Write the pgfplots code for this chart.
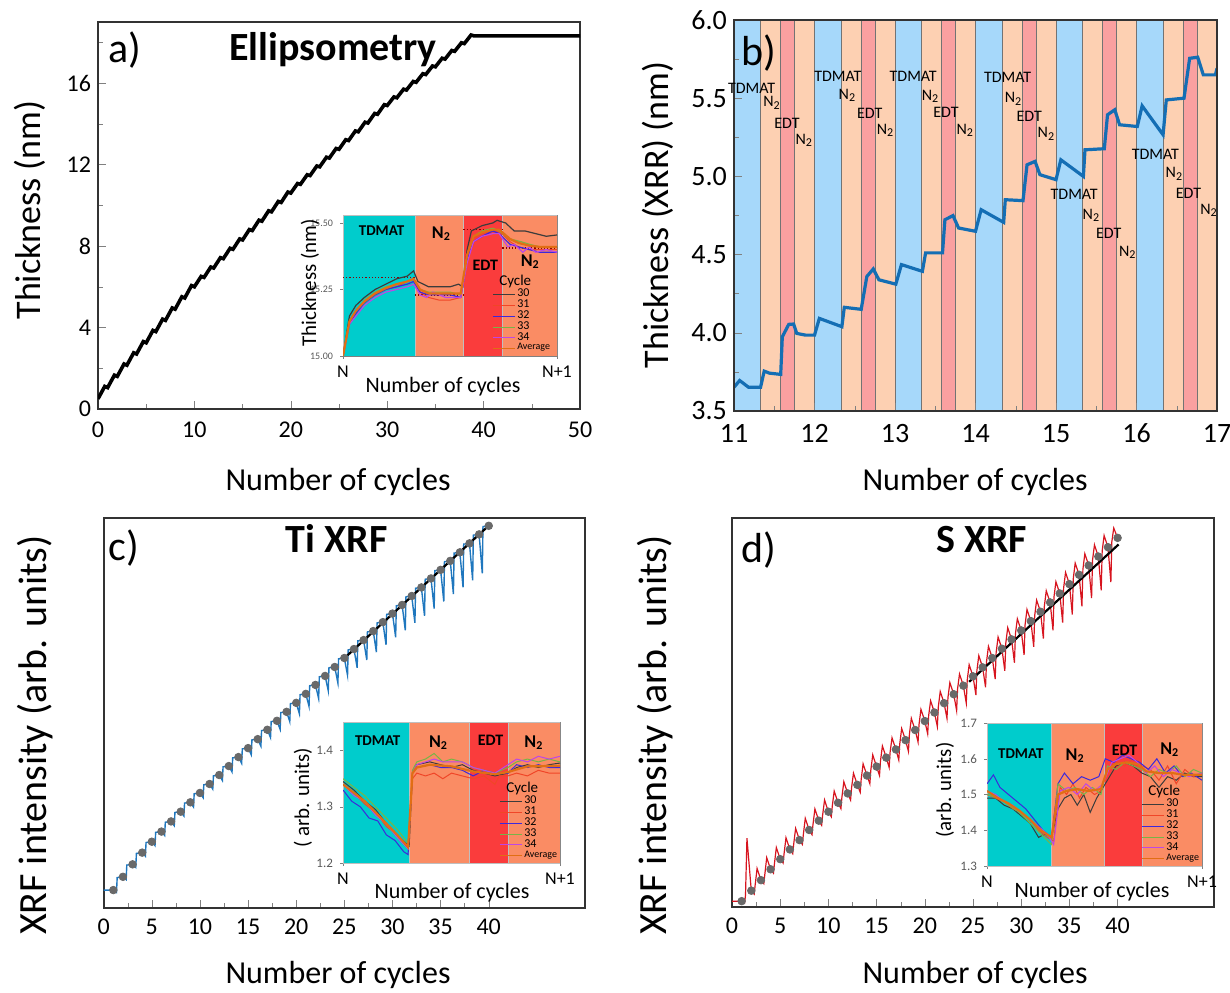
\documentclass[border=0pt]{standalone}
\usepackage{fontspec}
\setmainfont{Carlito}
\usepackage{pgfplots}
\pgfplotsset{compat=1.18}

\definecolor{icyan}{RGB}{0,204,204}
\definecolor{isalmon}{RGB}{250,140,100}
\definecolor{ired}{RGB}{250,60,60}
\definecolor{bblue}{RGB}{166,216,250}
\definecolor{bpeach}{RGB}{253,208,178}
\definecolor{bpink}{RGB}{250,160,160}
\definecolor{c30}{RGB}{60,60,60}
\definecolor{c31}{RGB}{240,70,40}
\definecolor{c32}{RGB}{60,40,220}
\definecolor{c33}{RGB}{120,180,70}
\definecolor{c34}{RGB}{190,70,230}
\definecolor{cavg}{RGB}{225,110,20}
\definecolor{lblue}{RGB}{31,119,190}
\definecolor{xblue}{RGB}{20,110,180}
\definecolor{lred}{RGB}{215,20,30}
\definecolor{dotgray}{RGB}{105,105,105}

\pgfplotsset{
  mainax/.style={scale only axis, anchor=south west, tick pos=left, tick align=inside,
    axis line style={line width=0.8pt, black!80},
    major tick length=4pt, minor tick length=2.5pt,
    /pgf/number format/assume math mode=true},
  insetax/.style={scale only axis, anchor=south west, xmin=0, xmax=1, tick pos=left,
    tick align=outside, axis line style={line width=0.4pt, black!50},
    major tick length=1.5pt, xtick={0,1}, xticklabels={N,N+1},
    xticklabel style={font=\fontsize{9}{9}\selectfont},
    yticklabel style={font=\fontsize{5}{5}\selectfont, text=black!65},
    legend cell align=left,
    legend style={at={(1,0)}, anchor=south east, draw=none, fill=none, inner sep=0.3pt,
      row sep=-1.9pt, font=\fontsize{6}{6}\selectfont, nodes={inner sep=1pt}},
    legend image code/.code={\draw[line width=0.5pt,##1] (0pt,0pt) -- (11pt,0pt);}},
}

% coloured step regions
\newcommand{\reg}[5]{\addplot[fill=#1, draw=black!25, line width=0.2pt, forget plot] coordinates {(#2,#4)(#2,#5)(#3,#5)(#3,#4)} --cycle;}
\newcommand{\band}[3]{\addplot[fill=#1, draw=black!55, line width=0.35pt, forget plot] coordinates {(#2,3.5)(#2,6)(#3,6)(#3,3.5)} --cycle;}

\begin{document}
\begin{tikzpicture}
\path[use as bounding box] (0pt,0pt) rectangle (615pt,496pt);

%% ---------------- a) ellipsometry
\begin{axis}[mainax, at={(49pt,291.5pt)}, width=241pt, height=193.5pt,
  xmin=0, xmax=50, ymin=0, ymax=19,
  xtick={0,10,...,50}, minor xtick={5,15,...,45},
  ytick={0,4,...,16}, minor ytick={2,6,...,18},
  ticklabel style={font=\fontsize{12}{12}\selectfont},
  xticklabel style={yshift=-3pt}]
\addplot[black, line width=1.8pt] coordinates {
(0,0.50)(0.7,1.11)(1,1.05)(1.7,1.66)(2,1.60)(2.7,2.21)(3,2.15)(3.7,2.76)(4,2.70)(4.7,3.31)
(5,3.25)(5.7,3.86)(6,3.80)(6.7,4.41)(7,4.35)(7.7,4.96)(8,4.90)(8.7,5.51)(9,5.45)(9.7,6.06)
(10,6.00)(10.7,6.51)(11,6.46)(11.7,6.97)(12,6.92)(12.7,7.43)(13,7.38)(13.7,7.89)(14,7.84)(14.7,8.35)
(15,8.30)(15.7,8.81)(16,8.76)(16.7,9.27)(17,9.22)(17.7,9.73)(18,9.68)(18.7,10.19)(19,10.14)(19.7,10.65)
(20,10.60)(20.7,11.07)(21,11.03)(21.7,11.50)(22,11.46)(22.7,11.93)(23,11.89)(23.7,12.36)(24,12.32)(24.7,12.79)
(25,12.75)(25.7,13.22)(26,13.18)(26.7,13.65)(27,13.61)(27.7,14.08)(28,14.04)(28.7,14.51)(29,14.47)(29.7,14.94)
(30,14.90)(30.7,15.32)(31,15.28)(31.7,15.70)(32,15.66)(32.7,16.08)(33,16.04)(33.7,16.46)(34,16.42)(34.7,16.84)
(35,16.80)(35.7,17.22)(36,17.18)(36.7,17.60)(37,17.56)(37.7,17.98)(38,17.94)(38.7,18.36)(39,18.32)(50,18.32)};
\end{axis}

%% a) inset
\begin{axis}[insetax, at={(171.5pt,318pt)}, width=107pt, height=70.5pt,
  ymin=15, ymax=15.53, ytick={15,15.25,15.5}, yticklabels={15.00,15.25,15.50},
  legend style={xshift=-2pt}]
\reg{icyan}{0}{0.336}{15}{15.53}
\reg{isalmon}{0.336}{0.5625}{15}{15.53}
\reg{ired}{0.5625}{0.745}{15}{15.53}
\reg{isalmon}{0.745}{1}{15}{15.53}
\addplot[densely dotted, red!55!black, line width=0.6pt, forget plot] coordinates {(0,15.294)(0.336,15.294)};
\addplot[densely dotted, red!55!black, line width=0.6pt, forget plot] coordinates {(0.336,15.229)(0.5625,15.229)};
\addplot[densely dotted, red!55!black, line width=0.6pt, forget plot] coordinates {(0.5625,15.475)(0.745,15.475)};
\addplot[densely dotted, red!55!black, line width=0.6pt, forget plot] coordinates {(0.745,15.406)(1,15.406)};
\addlegendimage{empty legend}\addlegendentry{\hspace*{-9pt}\fontsize{7.5}{7.5}\selectfont Cycle}
\addplot[c30, line width=0.6pt] coordinates {(0,15.00)(0.03,15.15)(0.06,15.19)(0.1,15.22)(0.15,15.25)(0.2,15.27)(0.25,15.29)(0.3,15.30)(0.33,15.32)(0.35,15.28)(0.4,15.26)(0.45,15.26)(0.5,15.26)(0.54,15.27)(0.56,15.26)(0.58,15.40)(0.6,15.47)(0.65,15.49)(0.7,15.50)(0.72,15.51)(0.76,15.50)(0.8,15.47)(0.85,15.47)(0.9,15.46)(0.95,15.45)(1,15.455)};
\addlegendentry{30}
\addplot[c31, line width=0.5pt] coordinates {(0,15.00)(0.03,15.13)(0.06,15.17)(0.1,15.2)(0.15,15.23)(0.2,15.25)(0.25,15.26)(0.3,15.28)(0.33,15.29)(0.36,15.24)(0.4,15.22)(0.45,15.21)(0.5,15.21)(0.55,15.22)(0.58,15.38)(0.6,15.44)(0.65,15.46)(0.7,15.47)(0.73,15.47)(0.78,15.43)(0.82,15.41)(0.87,15.40)(0.92,15.40)(1,15.40)};
\addlegendentry{31}
\addplot[c32, line width=0.6pt] coordinates {(0,15.00)(0.03,15.12)(0.06,15.16)(0.1,15.20)(0.15,15.23)(0.2,15.25)(0.25,15.26)(0.3,15.27)(0.33,15.28)(0.36,15.24)(0.4,15.23)(0.45,15.23)(0.5,15.23)(0.55,15.22)(0.58,15.36)(0.61,15.43)(0.65,15.45)(0.7,15.47)(0.73,15.46)(0.78,15.42)(0.82,15.41)(0.87,15.40)(0.92,15.39)(1,15.39)};
\addlegendentry{32}
\addplot[c33, line width=0.6pt] coordinates {(0,15.00)(0.03,15.13)(0.06,15.17)(0.1,15.21)(0.15,15.24)(0.2,15.26)(0.25,15.27)(0.3,15.28)(0.33,15.29)(0.36,15.25)(0.4,15.24)(0.45,15.24)(0.5,15.24)(0.55,15.23)(0.58,15.38)(0.61,15.45)(0.65,15.47)(0.7,15.48)(0.73,15.47)(0.78,15.44)(0.83,15.43)(0.87,15.42)(0.92,15.41)(1,15.41)};
\addlegendentry{33}
\addplot[c34, line width=0.6pt] coordinates {(0,15.00)(0.03,15.12)(0.06,15.15)(0.1,15.19)(0.15,15.22)(0.2,15.24)(0.25,15.25)(0.3,15.26)(0.33,15.27)(0.36,15.23)(0.39,15.22)(0.42,15.24)(0.45,15.23)(0.48,15.22)(0.52,15.22)(0.55,15.22)(0.58,15.35)(0.61,15.43)(0.65,15.45)(0.7,15.46)(0.73,15.46)(0.77,15.41)(0.8,15.42)(0.84,15.39)(0.87,15.41)(0.9,15.39)(0.95,15.40)(1,15.39)};
\addlegendentry{34}
\addplot[cavg, line width=1.1pt] coordinates {(0,15.00)(0.03,15.13)(0.06,15.17)(0.1,15.205)(0.15,15.235)(0.2,15.255)(0.25,15.27)(0.3,15.28)(0.33,15.29)(0.36,15.25)(0.4,15.235)(0.45,15.235)(0.5,15.235)(0.55,15.235)(0.58,15.38)(0.61,15.45)(0.65,15.465)(0.7,15.475)(0.73,15.475)(0.78,15.44)(0.82,15.425)(0.87,15.415)(0.92,15.41)(1,15.41)};
\addlegendentry{\fontsize{5}{5}\selectfont Average}
\node[font=\bfseries\fontsize{7.5}{7.5}\selectfont] at (axis cs:0.18,15.47) {TDMAT};
\node[font=\bfseries\fontsize{9}{9}\selectfont] at (axis cs:0.46,15.46) {N\textsubscript{2}};
\node[font=\bfseries\fontsize{8}{8}\selectfont] at (axis cs:0.665,15.34) {EDT};
\node[font=\bfseries\fontsize{9}{9}\selectfont] at (axis cs:0.875,15.355) {N\textsubscript{2}};
\end{axis}

%% ---------------- b) XRR
\begin{axis}[mainax, axis on top, at={(367pt,290.5pt)}, width=241.5pt, height=195.5pt,
  xmin=11, xmax=17, ymin=3.5, ymax=6,
  xtick={11,...,17}, minor xtick={11.5,12.5,...,16.5},
  ytick={3.5,4,...,6}, minor ytick={3.75,4.25,...,5.75},
  ticklabel style={font=\fontsize{14}{14}\selectfont},
  xticklabel style={yshift=-3pt},
  yticklabel style={/pgf/number format/fixed, /pgf/number format/fixed zerofill, /pgf/number format/precision=1}]
\band{bblue}{11}{11.33}\band{bpeach}{11.33}{11.58}\band{bpink}{11.58}{11.755}\band{bpeach}{11.755}{12}
\band{bblue}{12}{12.33}\band{bpeach}{12.33}{12.58}\band{bpink}{12.58}{12.755}\band{bpeach}{12.755}{13}
\band{bblue}{13}{13.33}\band{bpeach}{13.33}{13.58}\band{bpink}{13.58}{13.755}\band{bpeach}{13.755}{14}
\band{bblue}{14}{14.33}\band{bpeach}{14.33}{14.58}\band{bpink}{14.58}{14.755}\band{bpeach}{14.755}{15}
\band{bblue}{15}{15.33}\band{bpeach}{15.33}{15.58}\band{bpink}{15.58}{15.755}\band{bpeach}{15.755}{16}
\band{bblue}{16}{16.33}\band{bpeach}{16.33}{16.58}\band{bpink}{16.58}{16.755}\band{bpeach}{16.755}{17}
\addplot[xblue, line width=1.6pt] coordinates {
(11.00,3.652)(11.07,3.695)(11.18,3.652)(11.33,3.652)(11.375,3.755)(11.44,3.742)(11.58,3.734)
(11.60,3.974)(11.68,4.054)(11.74,4.056)(11.78,3.996)(11.89,3.985)(12.00,3.985)(12.06,4.092)
(12.34,4.039)(12.37,4.163)(12.58,4.150)(12.65,4.36)(12.73,4.408)(12.80,4.339)(13.01,4.311)
(13.08,4.436)(13.34,4.393)(13.38,4.511)(13.59,4.511)(13.62,4.723)(13.72,4.749)(13.79,4.670)
(14.00,4.649)(14.07,4.787)(14.35,4.706)(14.37,4.851)(14.59,4.845)(14.64,5.074)(14.74,5.096)
(14.80,5.011)(15.00,4.979)(15.06,5.106)(15.34,5.000)(15.36,5.170)(15.60,5.177)(15.64,5.394)
(15.73,5.426)(15.79,5.330)(16.01,5.319)(16.07,5.451)(16.33,5.266)(16.37,5.489)(16.59,5.500)
(16.66,5.755)(16.76,5.762)(16.83,5.649)(16.98,5.649)(17.00,5.691)};
\end{axis}

%% ---------------- c) Ti XRF
\begin{axis}[mainax, at={(51.85pt,42pt)}, width=240.65pt, height=195pt,
  xmin=0, xmax=50, ymin=0, ymax=100,
  xtick={0,5,...,40}, minor xtick={2.5,7.5,...,37.5}, ytick=\empty,
  ticklabel style={font=\fontsize{12}{12}\selectfont},
  xticklabel style={yshift=-2pt}]
\addplot[lblue, line width=0.7pt] coordinates {
(0,4.6)(1,4.6)(1.33,4.0)(1.4,7.8)(2,8.0)(2.33,7.3)(2.4,11.0)(3,11.2)(3.33,10.4)(3.4,14.0)
(4,14.2)(4.33,13.3)(4.4,16.8)(5,17.0)(5.33,16.0)(5.4,19.4)(6,19.6)(6.33,18.6)(6.4,22.0)
(7,22.2)(7.33,21.1)(7.4,24.5)(8,24.7)(8.33,23.6)(8.4,26.9)(9,27.1)(9.33,25.9)(9.4,29.3)
(10,29.5)(10.33,28.3)(10.4,31.6)(11,31.8)(11.33,30.5)(11.4,33.9)(12,34.1)(12.33,32.7)(12.4,36.2)
(13,36.4)(13.33,34.9)(13.4,38.5)(14,38.7)(14.33,37.1)(14.4,40.8)(15,41.0)(15.33,39.3)(15.4,43.1)
(16,43.3)(16.33,41.5)(16.4,45.5)(17,45.7)(17.33,43.7)(17.4,47.8)(18,48.0)(18.33,45.8)(18.4,50.1)
(19,50.3)(19.33,47.8)(19.4,52.4)(20,52.6)(20.33,49.8)(20.4,54.7)(21,54.9)(21.33,51.7)(21.4,57.0)
(22,57.2)(22.33,53.7)(22.4,59.3)(23,59.5)(23.33,55.7)(23.4,61.6)(24,61.8)(24.33,57.7)(24.4,63.9)
(25,64.1)(25.33,59.7)(25.4,66.2)(26,66.4)(26.33,61.6)(26.4,68.5)(27,68.7)(27.33,63.6)(27.4,70.8)
(28,71.0)(28.33,65.6)(28.4,73.1)(29,73.3)(29.33,67.5)(29.4,75.3)(30,75.5)(30.33,69.4)(30.4,77.5)
(31,77.7)(31.33,71.2)(31.4,79.8)(32,80.0)(32.33,73.1)(32.4,82.0)(33,82.2)(33.33,74.9)(33.4,84.3)
(34,84.5)(34.33,76.8)(34.4,86.5)(35,86.7)(35.33,78.6)(35.4,88.8)(36,89.0)(36.33,80.5)(36.4,91.0)
(37,91.2)(37.33,82.2)(37.4,93.3)(38,93.5)(38.33,84.0)(38.4,95.6)(39,95.8)(39.33,85.8)(39.4,97.8)
(40,98.0)};
\addplot[only marks, mark=*, mark size=1.9pt, dotgray] coordinates {
(1,4.6)(2,8.0)(3,11.2)(4,14.2)(5,17.0)(6,19.6)(7,22.2)(8,24.7)(9,27.1)(10,29.5)
(11,31.8)(12,34.1)(13,36.4)(14,38.7)(15,41.0)(16,43.3)(17,45.7)(18,48.0)(19,50.3)(20,52.6)
(21,54.9)(22,57.2)(23,59.5)(24,61.8)(25,64.1)(26,66.4)(27,68.7)(28,71.0)(29,73.3)(30,75.5)
(31,77.7)(32,80.0)(33,82.2)(34,84.5)(35,86.7)(36,89.0)(37,91.2)(38,93.5)(39,95.8)(40,98.0)};
\addplot[black, line width=1.1pt] coordinates {(24.8,63.6)(40.2,98.5)};
\end{axis}

%% c) inset
\begin{axis}[insetax, at={(171.5pt,64.5pt)}, width=108.5pt, height=70.5pt,
  ymin=1.2, ymax=1.451, ytick={1.2,1.3,1.4}, yticklabels={1.2,1.3,1.4},
  yticklabel style={font=\fontsize{6.5}{6.5}\selectfont}]
\reg{icyan}{0}{0.305}{1.2}{1.451}
\reg{isalmon}{0.305}{0.58}{1.2}{1.451}
\reg{ired}{0.58}{0.76}{1.2}{1.451}
\reg{isalmon}{0.76}{1}{1.2}{1.451}
\addlegendimage{empty legend}\addlegendentry{\hspace*{-9pt}\fontsize{7.5}{7.5}\selectfont Cycle}
\addplot[c30, line width=0.5pt] coordinates {(0,1.345)(0.05,1.33)(0.1,1.31)(0.15,1.295)(0.2,1.27)(0.25,1.25)(0.29,1.235)(0.305,1.23)(0.32,1.36)(0.34,1.375)(0.4,1.38)(0.45,1.375)(0.5,1.37)(0.55,1.375)(0.6,1.365)(0.65,1.36)(0.7,1.355)(0.76,1.36)(0.8,1.37)(0.85,1.375)(0.9,1.37)(0.95,1.375)(1,1.378)};
\addlegendentry{30}
\addplot[c31, line width=0.5pt] coordinates {(0,1.34)(0.05,1.325)(0.1,1.305)(0.15,1.29)(0.2,1.265)(0.25,1.25)(0.3,1.23)(0.32,1.35)(0.34,1.36)(0.38,1.355)(0.42,1.36)(0.46,1.35)(0.5,1.36)(0.55,1.355)(0.6,1.35)(0.65,1.355)(0.7,1.34)(0.72,1.355)(0.76,1.355)(0.8,1.36)(0.85,1.355)(0.9,1.365)(0.95,1.36)(1,1.36)};
\addlegendentry{31}
\addplot[c32, line width=0.5pt] coordinates {(0,1.33)(0.04,1.31)(0.08,1.30)(0.12,1.28)(0.16,1.275)(0.2,1.25)(0.24,1.24)(0.28,1.22)(0.3,1.215)(0.32,1.36)(0.34,1.37)(0.4,1.375)(0.45,1.37)(0.5,1.37)(0.55,1.365)(0.6,1.355)(0.65,1.365)(0.7,1.36)(0.76,1.36)(0.8,1.375)(0.85,1.37)(0.9,1.375)(0.95,1.37)(1,1.37)};
\addlegendentry{32}
\addplot[c33, line width=0.5pt] coordinates {(0,1.35)(0.05,1.335)(0.1,1.32)(0.15,1.30)(0.2,1.28)(0.25,1.26)(0.3,1.235)(0.32,1.365)(0.34,1.38)(0.38,1.385)(0.42,1.395)(0.46,1.38)(0.5,1.385)(0.55,1.38)(0.6,1.37)(0.65,1.365)(0.7,1.36)(0.76,1.37)(0.8,1.38)(0.85,1.385)(0.9,1.38)(0.95,1.385)(1,1.38)};
\addlegendentry{33}
\addplot[c34, line width=0.5pt] coordinates {(0,1.34)(0.05,1.32)(0.1,1.31)(0.15,1.285)(0.2,1.27)(0.25,1.245)(0.3,1.225)(0.32,1.36)(0.34,1.375)(0.38,1.38)(0.42,1.385)(0.46,1.38)(0.5,1.38)(0.55,1.38)(0.6,1.37)(0.65,1.365)(0.7,1.36)(0.76,1.375)(0.8,1.385)(0.85,1.38)(0.9,1.39)(0.95,1.385)(1,1.39)};
\addlegendentry{34}
\addplot[cavg, line width=1.1pt] coordinates {(0,1.34)(0.05,1.325)(0.1,1.31)(0.15,1.29)(0.2,1.27)(0.25,1.25)(0.3,1.228)(0.32,1.36)(0.34,1.37)(0.4,1.375)(0.5,1.372)(0.6,1.363)(0.7,1.358)(0.76,1.362)(0.85,1.372)(1,1.373)};
\addlegendentry{\fontsize{5}{5}\selectfont Average}
\node[font=\bfseries\fontsize{7.5}{7.5}\selectfont] at (axis cs:0.16,1.418) {TDMAT};
\node[font=\bfseries\fontsize{9}{9}\selectfont] at (axis cs:0.44,1.414) {N\textsubscript{2}};
\node[font=\bfseries\fontsize{8}{8}\selectfont] at (axis cs:0.68,1.419) {EDT};
\node[font=\bfseries\fontsize{9}{9}\selectfont] at (axis cs:0.88,1.414) {N\textsubscript{2}};
\end{axis}

%% ---------------- d) S XRF
\begin{axis}[mainax, at={(366pt,42.5pt)}, width=241pt, height=194.5pt,
  xmin=0, xmax=50, ymin=0, ymax=100,
  xtick={0,5,...,40}, minor xtick={2.5,7.5,...,37.5}, ytick=\empty,
  ticklabel style={font=\fontsize{12}{12}\selectfont},
  xticklabel style={yshift=-2pt}]
\addplot[lred, line width=0.6pt] coordinates {
(0,1.5)(1,1.5)(1.3,1.0)(1.4,3.0)(1.55,17.7)(2,4.2)(2.3,3.3)(2.4,5.6)(2.6,9.9)(3,6.9)(3.3,6.0)(3.4,8.3)(3.6,12.7)
(4,9.7)(4.3,8.7)(4.4,11.1)(4.6,15.3)(5,12.3)(5.3,11.3)(5.4,13.7)(5.6,17.8)(6,14.8)(6.3,13.7)(6.4,16.2)(6.6,20.2)
(7,17.2)(7.3,16.1)(7.4,18.6)(7.6,22.8)(8,19.8)(8.3,18.6)(8.4,21.2)(8.6,25.2)(9,22.2)(9.3,21.0)(9.4,23.6)(9.6,27.5)
(10,24.5)(10.3,23.2)(10.4,25.9)(10.6,29.8)(11,26.8)(11.3,25.3)(11.4,28.2)(11.6,32.2)(12,29.2)(12.3,27.5)(12.4,30.6)(12.6,34.4)
(13,31.4)(13.3,29.5)(13.4,32.8)(13.6,36.8)(14,33.8)(14.3,31.7)(14.4,35.2)(14.6,39.1)(15,36.1)(15.3,33.8)(15.4,37.5)(15.6,41.4)
(16,38.4)(16.3,35.9)(16.4,39.8)(16.6,43.5)(17,40.5)(17.3,37.8)(17.4,41.9)(17.6,45.9)(18,42.9)(18.3,40.0)(18.4,44.3)(18.6,48.5)
(19,45.5)(19.3,42.4)(19.4,46.9)(19.6,50.8)(20,47.8)(20.3,44.5)(20.4,49.2)(20.6,53.0)(21,50.0)(21.3,46.4)(21.4,51.4)(21.6,55.4)
(22,52.4)(22.3,48.5)(22.4,53.8)(22.6,57.7)(23,54.7)(23.3,50.5)(23.4,56.1)(23.6,59.9)(24,56.9)(24.3,52.4)(24.4,58.3)(24.6,62.3)
(25,59.3)(25.3,54.5)(25.4,60.7)(25.6,64.6)(26,61.6)(26.3,56.5)(26.4,63.0)(26.6,67.0)(27,64.0)(27.3,58.6)(27.4,65.4)(27.6,69.4)
(28,66.4)(28.3,60.7)(28.4,67.8)(28.6,71.8)(29,68.8)(29.3,62.8)(29.4,70.2)(29.6,74.1)(30,71.1)(30.3,64.8)(30.4,72.5)(30.6,76.5)
(31,73.5)(31.3,66.9)(31.4,74.9)(31.6,78.9)(32,75.9)(32.3,69.0)(32.4,77.3)(32.6,81.3)(33,78.3)(33.3,71.1)(33.4,79.7)(33.6,83.6)
(34,80.6)(34.3,73.1)(34.4,82.0)(34.6,86.0)(35,83.0)(35.3,75.2)(35.4,84.4)(35.6,88.4)(36,85.4)(36.3,77.3)(36.4,86.8)(36.6,90.8)
(37,87.8)(37.3,79.4)(37.4,89.2)(37.6,93.1)(38,90.1)(38.3,81.4)(38.4,91.5)(38.6,95.5)(39,92.5)(39.3,83.5)(39.4,93.9)(39.6,97.4)
(40,94.9)};
\addplot[only marks, mark=*, mark size=1.9pt, dotgray] coordinates {
(1,1.5)(2,4.2)(3,6.9)(4,9.7)(5,12.3)(6,14.8)(7,17.2)(8,19.8)(9,22.2)(10,24.5)
(11,26.8)(12,29.2)(13,31.4)(14,33.8)(15,36.1)(16,38.4)(17,40.5)(18,42.9)(19,45.5)(20,47.8)
(21,50.0)(22,52.4)(23,54.7)(24,56.9)(25,59.3)(26,61.6)(27,64.0)(28,66.4)(29,68.8)(30,71.1)
(31,73.5)(32,75.9)(33,78.3)(34,80.6)(35,83.0)(36,85.4)(37,87.8)(38,90.1)(39,92.5)(40,94.9)};
\addplot[black, line width=1.1pt] coordinates {(24.6,57.9)(40.1,93.2)};
\end{axis}

%% d) inset
\begin{axis}[insetax, at={(493.5pt,63pt)}, width=107.5pt, height=71.5pt,
  ymin=1.3, ymax=1.7, ytick={1.3,1.4,1.5,1.6,1.7}, yticklabels={1.3,1.4,1.5,1.6,1.7},
  yticklabel style={font=\fontsize{6.5}{6.5}\selectfont}]
\reg{icyan}{0}{0.30}{1.3}{1.7}
\reg{isalmon}{0.30}{0.543}{1.3}{1.7}
\reg{ired}{0.543}{0.724}{1.3}{1.7}
\reg{isalmon}{0.724}{1}{1.3}{1.7}
\addlegendimage{empty legend}\addlegendentry{\hspace*{-9pt}\fontsize{7.5}{7.5}\selectfont Cycle}
\addplot[c30, line width=0.5pt] coordinates {(0,1.49)(0.04,1.49)(0.08,1.47)(0.12,1.46)(0.16,1.44)(0.2,1.42)(0.24,1.38)(0.27,1.39)(0.3,1.38)(0.33,1.46)(0.36,1.49)(0.39,1.50)(0.42,1.47)(0.45,1.50)(0.48,1.45)(0.51,1.49)(0.54,1.52)(0.57,1.55)(0.6,1.58)(0.64,1.59)(0.68,1.58)(0.72,1.56)(0.76,1.55)(0.8,1.52)(0.84,1.55)(0.88,1.54)(0.92,1.56)(0.96,1.55)(1,1.55)};
\addlegendentry{30}
\addplot[c31, line width=0.5pt] coordinates {(0,1.50)(0.04,1.49)(0.08,1.48)(0.12,1.46)(0.16,1.45)(0.2,1.43)(0.24,1.40)(0.28,1.38)(0.31,1.37)(0.34,1.52)(0.37,1.50)(0.4,1.53)(0.43,1.49)(0.46,1.52)(0.5,1.50)(0.53,1.51)(0.56,1.57)(0.6,1.59)(0.64,1.58)(0.68,1.60)(0.72,1.58)(0.76,1.57)(0.8,1.54)(0.84,1.58)(0.88,1.53)(0.92,1.57)(0.96,1.55)(1,1.56)};
\addlegendentry{31}
\addplot[c32, line width=0.5pt] coordinates {(0,1.53)(0.03,1.555)(0.06,1.52)(0.1,1.50)(0.14,1.48)(0.18,1.46)(0.22,1.43)(0.26,1.40)(0.3,1.38)(0.33,1.53)(0.36,1.56)(0.4,1.53)(0.44,1.55)(0.48,1.54)(0.52,1.55)(0.55,1.60)(0.59,1.59)(0.63,1.61)(0.67,1.60)(0.71,1.59)(0.75,1.57)(0.79,1.60)(0.83,1.56)(0.87,1.58)(0.91,1.55)(0.95,1.56)(1,1.54)};
\addlegendentry{32}
\addplot[c33, line width=0.5pt] coordinates {(0,1.50)(0.05,1.49)(0.1,1.47)(0.15,1.45)(0.2,1.42)(0.25,1.39)(0.3,1.36)(0.33,1.53)(0.37,1.51)(0.41,1.52)(0.45,1.50)(0.49,1.52)(0.53,1.50)(0.56,1.58)(0.6,1.57)(0.64,1.59)(0.68,1.58)(0.72,1.57)(0.76,1.55)(0.8,1.57)(0.84,1.56)(0.88,1.58)(0.92,1.55)(0.96,1.57)(1,1.56)};
\addlegendentry{33}
\addplot[c34, line width=0.5pt] coordinates {(0,1.51)(0.04,1.50)(0.08,1.48)(0.12,1.47)(0.16,1.45)(0.2,1.43)(0.24,1.41)(0.28,1.39)(0.31,1.36)(0.34,1.51)(0.38,1.52)(0.42,1.50)(0.46,1.53)(0.5,1.51)(0.54,1.53)(0.58,1.59)(0.62,1.60)(0.66,1.61)(0.7,1.59)(0.74,1.56)(0.78,1.58)(0.82,1.55)(0.86,1.57)(0.9,1.56)(0.94,1.55)(1,1.56)};
\addlegendentry{34}
\addplot[cavg, line width=1.1pt] coordinates {(0,1.51)(0.05,1.49)(0.1,1.475)(0.15,1.455)(0.2,1.43)(0.25,1.40)(0.3,1.38)(0.33,1.50)(0.37,1.51)(0.42,1.515)(0.47,1.51)(0.53,1.515)(0.56,1.57)(0.6,1.585)(0.65,1.59)(0.7,1.585)(0.74,1.565)(0.8,1.56)(0.86,1.56)(0.92,1.555)(1,1.555)};
\addlegendentry{\fontsize{5}{5}\selectfont Average}
\node[font=\bfseries\fontsize{7.5}{7.5}\selectfont] at (axis cs:0.157,1.615) {TDMAT};
\node[font=\bfseries\fontsize{9}{9}\selectfont] at (axis cs:0.41,1.61) {N\textsubscript{2}};
\node[font=\bfseries\fontsize{8}{8}\selectfont] at (axis cs:0.64,1.623) {EDT};
\node[font=\bfseries\fontsize{9}{9}\selectfont] at (axis cs:0.85,1.625) {N\textsubscript{2}};
\end{axis}

%% ---------------- panel texts
\node[font=\fontsize{21}{21}\selectfont] at (62.25pt,471pt) {a)};
\node[font=\bfseries\fontsize{20}{20}\selectfont] at (166.5pt,471pt) {Ellipsometry};
\node[font=\fontsize{21}{21}\selectfont] at (379.5pt,469.5pt) {b)};
\node[font=\fontsize{21}{21}\selectfont] at (62pt,222pt) {c)};
\node[font=\bfseries\fontsize{20}{20}\selectfont] at (168.3pt,226.8pt) {Ti XRF};
\node[font=\fontsize{21}{21}\selectfont] at (379.2pt,221pt) {d)};
\node[font=\bfseries\fontsize{20}{20}\selectfont] at (490.8pt,226pt) {S XRF};

\node[rotate=90, font=\fontsize{18}{18}\selectfont] at (15pt,391pt) {Thickness (nm)};
\node[rotate=90, font=\fontsize{18}{18}\selectfont] at (329pt,388.5pt) {Thickness (XRR) (nm)};
\node[rotate=90, font=\fontsize{20}{20}\selectfont] at (17.5pt,128.5pt) {XRF intensity (arb. units)};
\node[rotate=90, font=\fontsize{20}{20}\selectfont] at (327.5pt,128.5pt) {XRF intensity (arb. units)};
\node[font=\fontsize{16}{16}\selectfont] at (169pt,255pt) {Number of cycles};
\node[font=\fontsize{16}{16}\selectfont] at (487.5pt,255pt) {Number of cycles};
\node[font=\fontsize{16}{16}\selectfont] at (169pt,8.5pt) {Number of cycles};
\node[font=\fontsize{16}{16}\selectfont] at (487.5pt,8.5pt) {Number of cycles};

\node[rotate=90, font=\fontsize{10.5}{10.5}\selectfont] at (155pt,354.5pt) {Thickness (nm)};
\node[font=\fontsize{11}{11}\selectfont] at (221.5pt,302.5pt) {Number of cycles};
\node[rotate=90, font=\fontsize{10.5}{10.5}\selectfont] at (151.5pt,97pt) {( arb. units)};
\node[font=\fontsize{11}{11}\selectfont] at (226pt,49.5pt) {Number of cycles};
\node[rotate=90, font=\fontsize{10.5}{10.5}\selectfont] at (472.5pt,101pt) {(arb. units)};
\node[font=\fontsize{11}{11}\selectfont] at (546pt,50pt) {Number of cycles};

%% b) phase labels
\begin{scope}[every node/.style={font=\fontsize{8}{8}\selectfont, inner sep=0pt}]
\node at (375.8pt,451.9pt) {TDMAT}; \node at (386pt,444.5pt) {N\textsubscript{2}};
\node at (393.5pt,434.4pt) {EDT};   \node at (402.1pt,425.7pt) {N\textsubscript{2}};
\node at (418.9pt,458pt) {TDMAT};   \node at (423.7pt,448.2pt) {N\textsubscript{2}};
\node at (434.9pt,439.4pt) {EDT};   \node at (442.8pt,430.7pt) {N\textsubscript{2}};
\node at (456.6pt,458pt) {TDMAT};   \node at (465.3pt,447.9pt) {N\textsubscript{2}};
\node at (473.0pt,439.7pt) {EDT};   \node at (482.6pt,430.7pt) {N\textsubscript{2}};
\node at (503.8pt,457.4pt) {TDMAT}; \node at (506.8pt,446.5pt) {N\textsubscript{2}};
\node at (514.6pt,437.7pt) {EDT};   \node at (523.2pt,429.0pt) {N\textsubscript{2}};
\node at (537.1pt,399pt) {TDMAT};   \node at (545.7pt,388.2pt) {N\textsubscript{2}};
\node at (554.4pt,379.4pt) {EDT};   \node at (563.9pt,369.9pt) {N\textsubscript{2}};
\node at (577.7pt,419pt) {TDMAT};   \node at (587.2pt,409.0pt) {N\textsubscript{2}};
\node at (594.2pt,399.4pt) {EDT};   \node at (604.5pt,390.7pt) {N\textsubscript{2}};
\end{scope}
\end{tikzpicture}
\end{document}
